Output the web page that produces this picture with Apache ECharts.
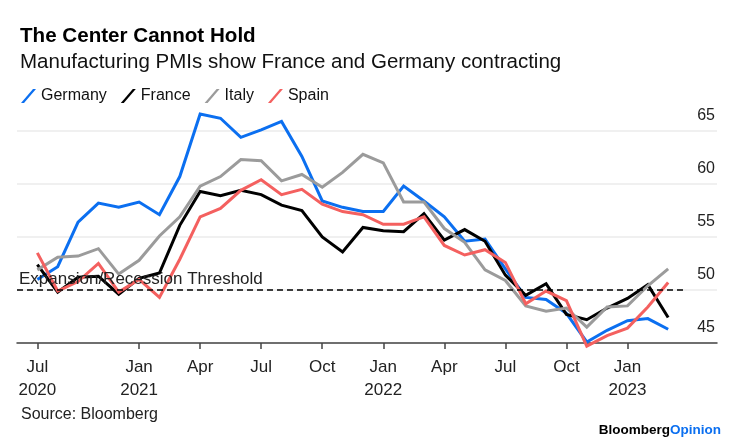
<!DOCTYPE html>
<html>
<head>
<meta charset="utf-8">
<script src="https://cdn.jsdelivr.net/npm/echarts@6/dist/echarts.min.js"></script>
<style>
  html, body { margin: 0; padding: 0; background: #ffffff; }
  #chart { width: 739px; height: 439px; }
</style>
</head>
<body>
<div id="chart"></div>
<script>
// Months (monthly manufacturing PMI readings), Jul 2020 .. Feb 2023
const months = [
  '2020-07','2020-08','2020-09','2020-10','2020-11','2020-12',
  '2021-01','2021-02','2021-03','2021-04','2021-05','2021-06',
  '2021-07','2021-08','2021-09','2021-10','2021-11','2021-12',
  '2022-01','2022-02','2022-03','2022-04','2022-05','2022-06',
  '2022-07','2022-08','2022-09','2022-10','2022-11','2022-12',
  '2023-01','2023-02'
];
const germany = [51.0,52.2,56.4,58.2,57.8,58.3, 57.1,60.7,66.6,66.2,64.4,65.1, 65.9,62.6,58.4,57.8,57.4,57.4, 59.8,58.4,56.9,54.6,54.8,52.0, 49.3,49.1,47.8,45.1,46.2,47.1, 47.3,46.3];
const france  = [52.4,49.8,51.2,51.3,49.6,51.1, 51.6,56.1,59.3,58.9,59.4,59.0, 58.0,57.5,55.0,53.6,55.9,55.6, 55.5,57.2,54.7,55.7,54.6,51.4, 49.5,50.6,47.7,47.2,48.3,49.2, 50.5,47.4];
const italy   = [51.9,53.1,53.2,53.9,51.5,52.8, 55.1,56.9,59.8,60.7,62.3,62.2, 60.3,60.9,59.7,61.1,62.8,62.0, 58.3,58.3,55.8,54.5,51.9,50.9, 48.5,48.0,48.3,46.5,48.4,48.5, 50.4,52.0];
const spain   = [53.5,49.9,50.8,52.5,49.8,51.0, 49.3,52.9,56.9,57.7,59.4,60.4, 59.0,59.5,58.1,57.4,57.1,56.2, 56.2,56.9,54.2,53.3,53.8,52.6, 48.7,49.9,49.0,44.7,45.7,46.4, 48.4,50.7];

// x-axis tick positions (in month-index units) and their labels
const xTickPositions = [0, 5, 8, 11, 14, 17, 20, 23, 26, 29];
const xTickLabels = ['Jul\n2020','Jan\n2021','Apr','Jul','Oct','Jan\n2022','Apr','Jul','Oct','Jan\n2023'];

const threshold = 50;
const yTicks = [45, 50, 55, 60, 65];

const colors = { Germany: '#0b6ff0', France: '#000000', Italy: '#9b9b9b', Spain: '#f4605f' };
const FONT = '"Liberation Sans", Arial, Helvetica, sans-serif';

function toPoints(arr) { return arr.map((v, i) => [i, v]); }

const slash = 'path://M0,14 L3,14 L15,0 L12,0 Z';

const chart = echarts.init(document.getElementById('chart'), null, { renderer: 'canvas' });

const lineSeries = (name, data) => ({
  name: name,
  type: 'line',
  data: toPoints(data),
  symbol: 'none',
  clip: false,
  lineStyle: { width: 3, color: colors[name], join: 'miter' },
  itemStyle: { color: colors[name] },
  emphasis: { disabled: true },
  animation: false
});

const series = [
  lineSeries('Germany', germany),
  lineSeries('France', france),
  lineSeries('Italy', italy),
  lineSeries('Spain', spain)
];

series[0].markLine = {
  silent: true,
  symbol: 'none',
  animation: false,
  lineStyle: { type: [6, 4], color: '#000', width: 1.6 },
  label: {
    show: true,
    position: 'insideStartTop',
    formatter: 'Expansion/Recession Threshold',
    color: '#222',
    fontSize: 17,
    fontFamily: FONT,
    distance: 2
  },
  data: [[{ coord: [-1, threshold] }, { coord: [31.9, threshold] }]]
};

chart.setOption({
  backgroundColor: '#ffffff',
  animation: false,
  textStyle: { fontFamily: FONT },
  title: [
    { text: 'The Center Cannot Hold', left: 15, top: 21,
      textStyle: { fontSize: 20.6, fontWeight: 'bold', color: '#000', fontFamily: FONT } },
    { text: 'Manufacturing PMIs show France and Germany contracting', left: 15, top: 47,
      textStyle: { fontSize: 20.5, fontWeight: 'normal', color: '#111', fontFamily: FONT } },
    { text: 'Source: Bloomberg', left: 16, top: 402,
      textStyle: { fontSize: 16, fontWeight: 'normal', color: '#222', fontFamily: FONT } },
    { text: '{a|Bloomberg}{b|Opinion}', right: 13, top: 418,
      textStyle: { rich: {
        a: { fontSize: 13.5, fontWeight: 'bold', color: '#000', fontFamily: FONT },
        b: { fontSize: 13.5, fontWeight: 'bold', color: '#0b6ff0', fontFamily: FONT }
      } } }
  ],
  legend: {
    left: 16, top: 83,
    itemWidth: 15, itemHeight: 14, itemGap: 14,
    selectedMode: false,
    textStyle: { fontSize: 16, color: '#111', fontFamily: FONT },
    data: ['Germany','France','Italy','Spain'].map(n => ({ name: n, icon: slash, itemStyle: { color: colors[n] } }))
  },
  grid: { left: 17, right: 22, top: 131, bottom: 96, containLabel: false },
  xAxis: {
    type: 'value',
    min: -1, max: 33.4,
    axisLine: { show: true, lineStyle: { color: '#444', width: 1.5 } },
    axisTick: { show: true, customValues: xTickPositions, length: 6, lineStyle: { color: '#444', width: 1.5 } },
    axisLabel: {
      show: true, customValues: xTickPositions,
      formatter: v => xTickLabels[xTickPositions.indexOf(v)] || '',
      color: '#222', fontSize: 17, lineHeight: 23, margin: 13, fontFamily: FONT
    },
    splitLine: { show: false }
  },
  yAxis: {
    type: 'value',
    position: 'right',
    min: 45, max: 65, interval: 5,
    axisLine: { show: false },
    axisTick: { show: false },
    axisLabel: {
      inside: true, margin: 2, color: '#222', fontSize: 16, fontFamily: FONT,
      verticalAlign: 'bottom', padding: [0, 0, 7, 0],
      formatter: v => (yTicks.indexOf(v) >= 0 ? String(v) : '')
    },
    splitLine: { show: true, lineStyle: { color: '#ebebeb', width: 1.5 } }
  },
  series: series
});
</script>
</body>
</html>
